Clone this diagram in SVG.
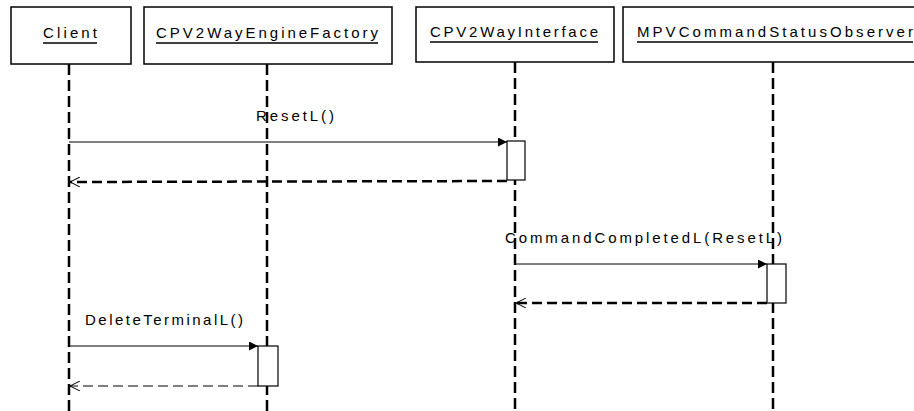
<svg xmlns="http://www.w3.org/2000/svg" width="914" height="411" viewBox="0 0 914 411">
<style>
.box{fill:#fff;stroke:#000;stroke-width:1.5}
.lbl{font-family:"Liberation Sans",Arial,sans-serif;font-size:15px;fill:#000}
.ul{stroke:#000;stroke-width:1.5}
.life{stroke:#000;stroke-width:2.5;stroke-dasharray:11 5;fill:none}
.call{stroke:#000;stroke-width:1;fill:none}
.ret{stroke:#000;stroke-width:2.5;stroke-dasharray:10 5;fill:none}
.ret2{stroke:#000;stroke-width:1;stroke-dasharray:10 5;fill:none}
.act{fill:#fff;stroke:#000;stroke-width:1.2}
</style>
<defs>
<marker id="fill" viewBox="0 0 10 10" refX="10" refY="5" markerWidth="9" markerHeight="9" markerUnits="userSpaceOnUse" orient="auto">
<path d="M0,0 L10,5 L0,10 z" fill="#000"/>
</marker>
<marker id="open" viewBox="0 0 10 10" refX="10" refY="5" markerWidth="10" markerHeight="10" markerUnits="userSpaceOnUse" orient="auto">
<path d="M0,0 L10,5 L0,10" fill="none" stroke="#000" stroke-width="1"/>
</marker>
</defs>
<rect width="914" height="411" fill="#fff"/>
<g id="lifelines">
<line class="life" x1="69" y1="64" x2="69" y2="411"/>
<line class="life" x1="267" y1="64" x2="267" y2="411"/>
<line class="life" x1="515" y1="62" x2="515" y2="411"/>
<line class="life" x1="773" y1="62" x2="773" y2="411"/>
</g>
<g id="node-client">
<rect class="box" x="11" y="7" width="120" height="57"/>
<text class="lbl" x="43" y="38" textLength="54" lengthAdjust="spacing">Client</text>
<line class="ul" x1="43" y1="43" x2="97" y2="43"/>
</g>
<g id="node-factory">
<rect class="box" x="144" y="7" width="248" height="57"/>
<text class="lbl" x="156" y="38" textLength="222" lengthAdjust="spacing">CPV2WayEngineFactory</text>
<line class="ul" x1="156" y1="43" x2="378" y2="43"/>
</g>
<g id="node-interface">
<rect class="box" x="416" y="7" width="198" height="55"/>
<text class="lbl" x="430" y="37" textLength="168" lengthAdjust="spacing">CPV2WayInterface</text>
<line class="ul" x1="430" y1="42" x2="598" y2="42"/>
</g>
<g id="node-observer">
<rect class="box" x="623" y="7" width="300" height="55"/>
<text class="lbl" x="637" y="37" textLength="276" lengthAdjust="spacing">MPVCommandStatusObserver</text>
<line class="ul" x1="637" y1="42" x2="913" y2="42"/>
</g>
<g id="activations">
<rect class="act" x="507" y="141" width="18" height="39"/>
<rect class="act" x="767" y="264" width="19" height="39"/>
<rect class="act" x="258" y="346" width="20" height="40"/>
</g>
<g id="connectors">
<line class="call" x1="69" y1="142" x2="507" y2="142" marker-end="url(#fill)"/>
<line class="ret" x1="507" y1="181" x2="70" y2="182" marker-end="url(#open)"/>
<line class="call" x1="515" y1="264" x2="767" y2="264" marker-end="url(#fill)"/>
<line class="ret" x1="767" y1="303" x2="516" y2="303" marker-end="url(#open)"/>
<line class="call" x1="69" y1="346" x2="258" y2="346" marker-end="url(#fill)"/>
<line class="ret2" x1="258" y1="386" x2="70" y2="386" marker-end="url(#open)"/>
</g>
<g id="labels">
<text class="lbl" x="256" y="121" textLength="78" lengthAdjust="spacing">ResetL()</text>
<text class="lbl" x="505" y="243" textLength="277" lengthAdjust="spacing">CommandCompletedL(ResetL)</text>
<text class="lbl" x="85" y="325" textLength="158" lengthAdjust="spacing">DeleteTerminalL()</text>
</g>
</svg>
